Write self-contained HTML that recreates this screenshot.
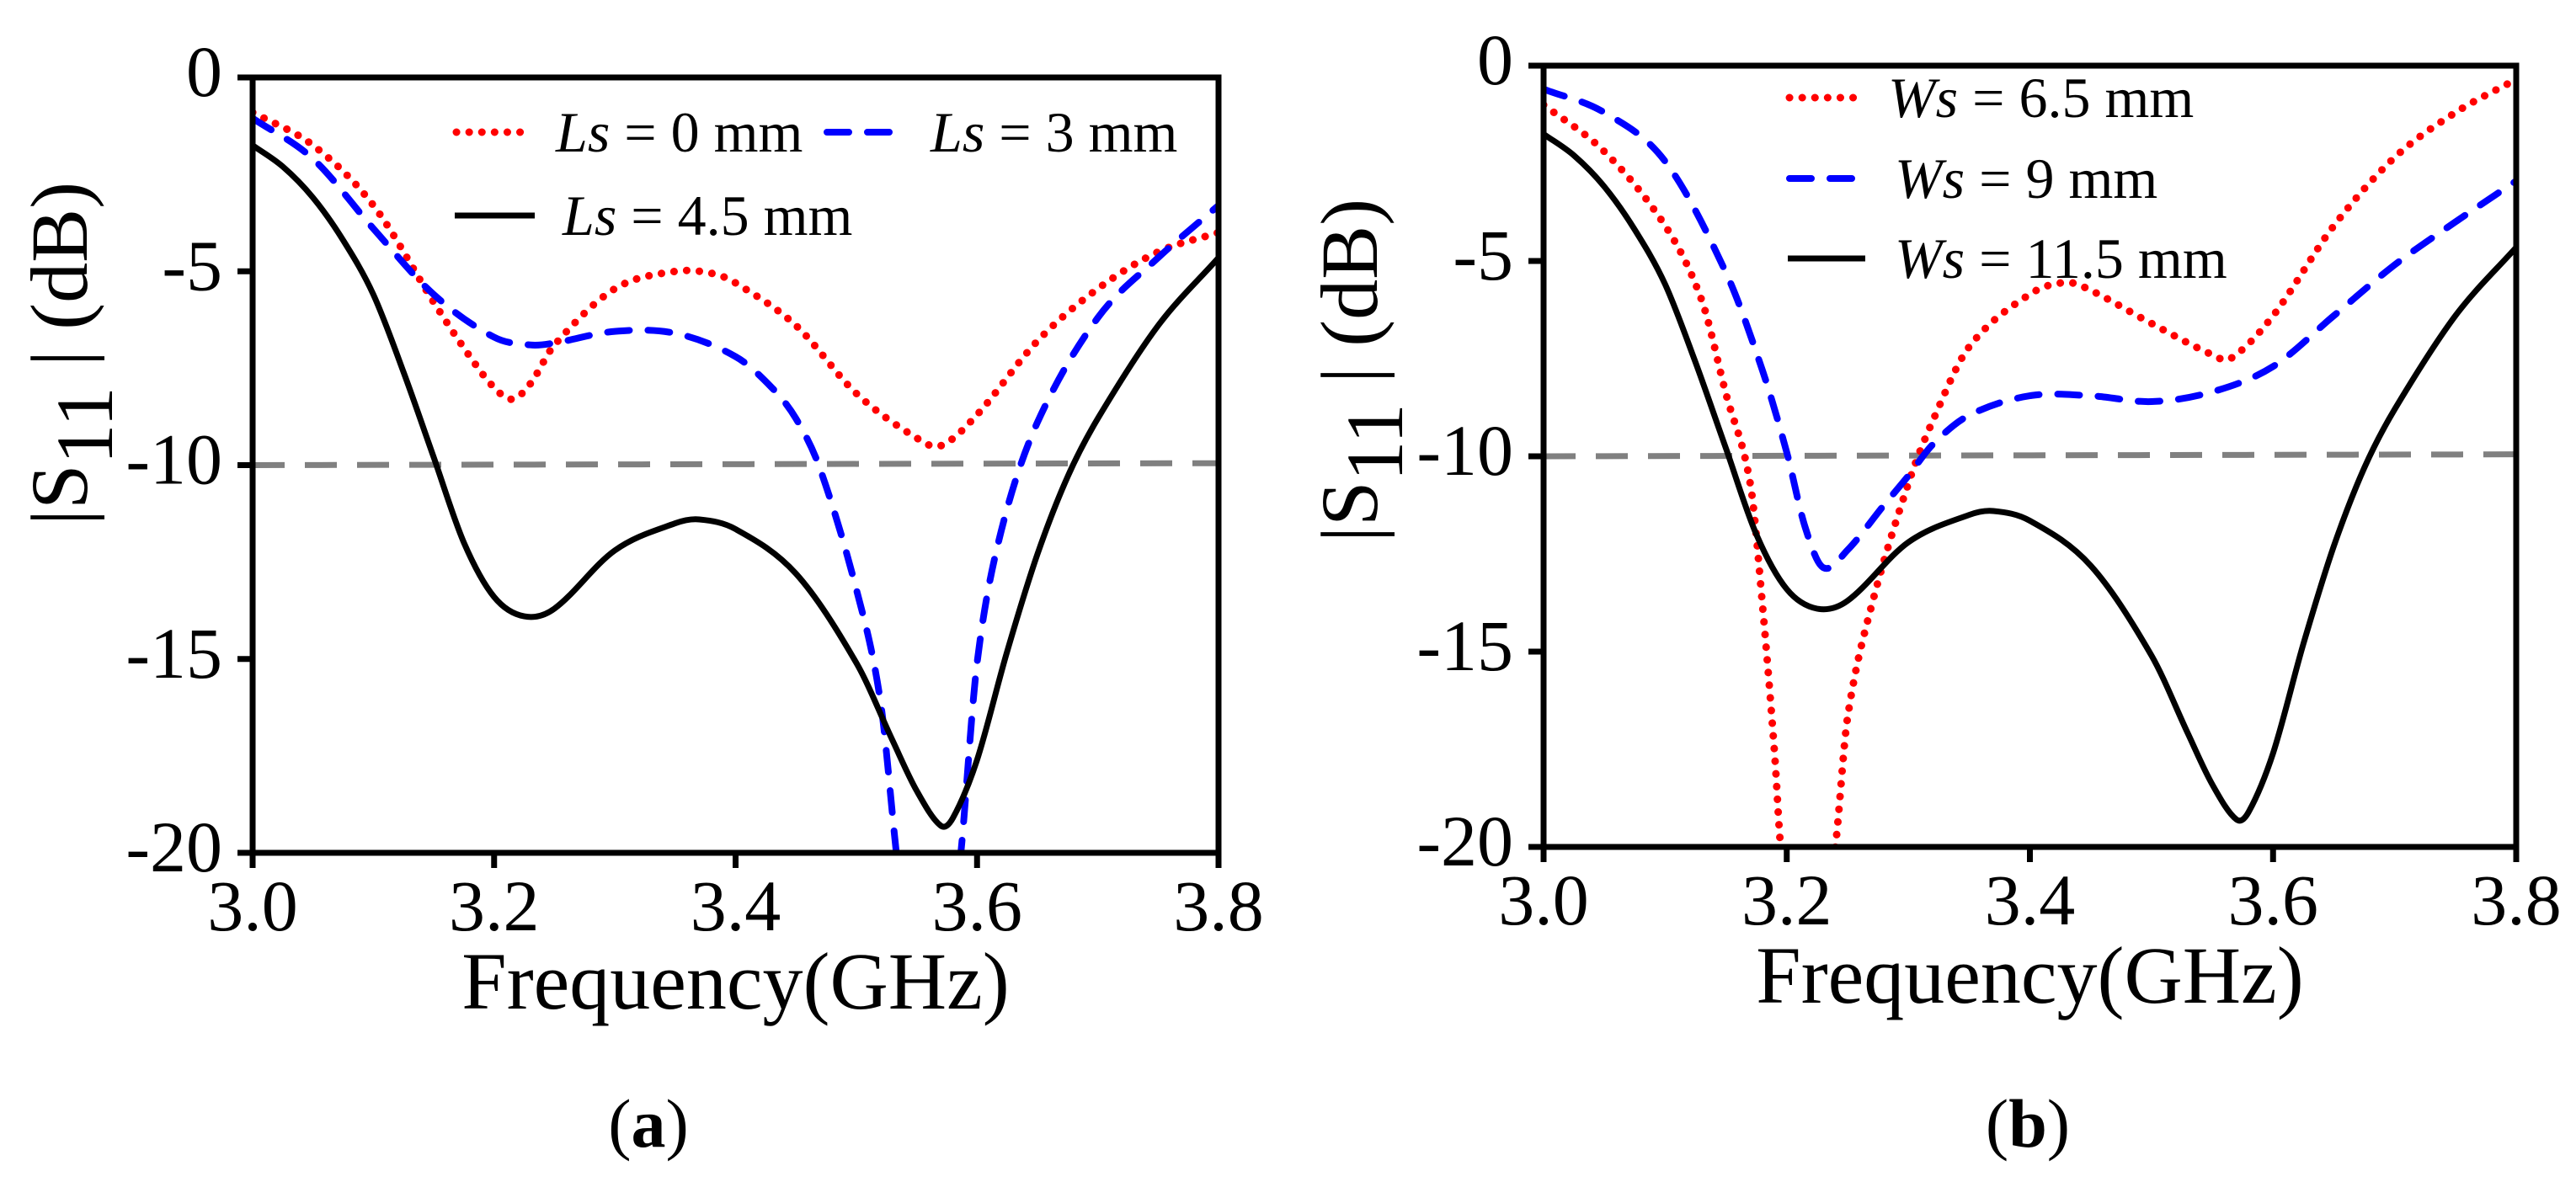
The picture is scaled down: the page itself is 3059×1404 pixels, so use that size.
<!DOCTYPE html>
<html><head><meta charset="utf-8"><style>
html,body{margin:0;padding:0;background:#fff;}
svg{display:block;}
text{font-family:"Liberation Serif",serif;fill:#000;}
</style></head><body>
<svg id="fig" width="3059" height="1404" viewBox="0 0 3059 1404" xmlns="http://www.w3.org/2000/svg"></svg>
<script>
// ---- data ----
const xTicks = [3.0, 3.2, 3.4, 3.6, 3.8];
const xTickLabels = ["3.0", "3.2", "3.4", "3.6", "3.8"];
const yTicks = [0, -5, -10, -15, -20];
const yTickLabels = ["0", "-5", "-10", "-15", "-20"];
const refLevel = [-10, -9.95];

// Panel (a)
const aRedF = [3.0,3.05,3.1,3.15,3.18,3.2,3.215,3.23,3.25,3.3,3.35,3.38,3.4,3.45,3.5,3.55,3.57,3.6,3.65,3.7,3.75,3.8];
const aRedV = [-0.9,-1.75,-3.3,-5.8,-7.2,-8.0,-8.3,-7.9,-6.9,-5.45,-5.0,-5.05,-5.3,-6.4,-8.15,-9.3,-9.5,-8.7,-6.8,-5.45,-4.5,-4.0];
const aBlueF = [3.0,3.05,3.1,3.15,3.2,3.23,3.25,3.3,3.35,3.4,3.43,3.45,3.47,3.5,3.52,3.535,3.56,3.585,3.6,3.62,3.65,3.7,3.75,3.8];
const aBlueV = [-1.05,-2.1,-3.9,-5.6,-6.7,-6.9,-6.85,-6.55,-6.6,-7.2,-8.0,-8.8,-10.1,-13.2,-16.1,-20.5,-26,-20.5,-15.1,-11.7,-8.9,-6.2,-4.65,-3.3];
const blackF = [3.0,3.025,3.05,3.075,3.1,3.125,3.15,3.175,3.2,3.225,3.25,3.3,3.35,3.37,3.4,3.45,3.5,3.53,3.55,3.57,3.58,3.6,3.625,3.65,3.675,3.7,3.75,3.8];
const blackV = [-1.75,-2.3,-3.1,-4.2,-5.6,-7.6,-9.8,-12.0,-13.4,-13.9,-13.7,-12.2,-11.5,-11.4,-11.65,-12.8,-15.1,-17.1,-18.4,-19.3,-19.1,-17.6,-14.8,-12.3,-10.3,-8.8,-6.4,-4.65];

// Panel (b)
const bRedF = [3.0,3.05,3.1,3.13,3.15,3.17,3.18,3.19,3.195,3.215,3.24,3.25,3.27,3.3,3.32,3.35,3.4,3.43,3.45,3.5,3.55,3.565,3.6,3.65,3.7,3.75,3.8];
const bRedV = [-1.0,-2.2,-4.1,-6.0,-8.4,-10.7,-13.8,-17.6,-20,-26,-20,-16.7,-13.8,-10.7,-9.1,-7.2,-5.85,-5.55,-5.75,-6.6,-7.4,-7.5,-6.4,-4.1,-2.35,-1.2,-0.35];
const bBlueF = [3.0,3.05,3.1,3.15,3.18,3.2,3.215,3.23,3.25,3.28,3.3,3.32,3.35,3.4,3.45,3.5,3.55,3.6,3.65,3.7,3.75,3.8];
const bBlueV = [-0.6,-1.2,-2.45,-5.3,-7.8,-9.9,-11.8,-12.85,-12.4,-11.25,-10.5,-9.7,-8.95,-8.45,-8.45,-8.6,-8.35,-7.7,-6.4,-5.1,-4.0,-2.95];

const NS = "http://www.w3.org/2000/svg";
const svg = document.getElementById('fig');
function mk(tag, attrs, parent){
  const e = document.createElementNS(NS, tag);
  for (const k in attrs) e.setAttribute(k, attrs[k]);
  (parent||svg).appendChild(e);
  return e;
}
function smoothPath(pts){
  const n = pts.length;
  const m = pts.map((p,i)=>{
    const a = pts[Math.max(0,i-1)], b = pts[Math.min(n-1,i+1)];
    return (b[1]-a[1])/(b[0]-a[0]);
  });
  let d = "M" + pts[0][0].toFixed(1) + "," + pts[0][1].toFixed(1);
  for (let i=0;i<n-1;i++){
    const p1 = pts[i], p2 = pts[i+1], h = (p2[0]-p1[0])/3;
    d += " C"+(p1[0]+h).toFixed(1)+","+(p1[1]+m[i]*h).toFixed(1)+" "+(p2[0]-h).toFixed(1)+","+(p2[1]-m[i+1]*h).toFixed(1)+" "+p2[0].toFixed(1)+","+p2[1].toFixed(1);
  }
  return d;
}

function panel(cfg){
  const {id, L, R, T, B, series, legend, titleX, titleY, label, labelX} = cfg;
  const g = mk('g', {});
  
  
  const xs = f => L + (f-3.0)/0.8*(R-L);
  const ys = v => T + (-v)/20*(B-T);
  const clip = mk('clipPath', {id:'clip'+id}, g);
  mk('rect', {x:L, y:T, width:R-L, height:B-T}, clip);

  const ref = mk('line', {x1:xs(3.0), y1:ys(refLevel[0]), x2:xs(3.8), y2:ys(refLevel[1]), stroke:'#808080', 'stroke-width':7, 'stroke-dasharray':'38 24'}, g);
  
  

  series.forEach(s => {
    const pts = s.f.map((f,i)=>[xs(f), ys(s.v[i])]);
    const p = mk('path', {d: smoothPath(pts), fill:'none', stroke:s.color, 'stroke-width':s.w, 'stroke-dasharray':s.dash, 'stroke-linecap':s.cap, 'clip-path':'url(#clip'+id+')'}, g);
    
    
  });

  const frame = mk('rect', {x:L, y:T, width:R-L, height:B-T, fill:'none', stroke:'#000', 'stroke-width':7}, g);
  
  

  xTicks.forEach((t,i) => {
    const tk = mk('line', {x1:xs(t), y1:B, x2:xs(t), y2:B+18, stroke:'#000', 'stroke-width':7}, g);
    
    
    const tx = mk('text', {x:xs(t), y:B+92, 'font-size':86, 'text-anchor':'middle'}, g);
    tx.textContent = xTickLabels[i];
    
    
  });
  yTicks.forEach((t,i) => {
    const tk = mk('line', {x1:L-18, y1:ys(t), x2:L, y2:ys(t), stroke:'#000', 'stroke-width':7}, g);
    
    
    const tx = mk('text', {x:L-36, y:ys(t)+22, 'font-size':86, 'text-anchor':'end'}, g);
    tx.textContent = yTickLabels[i];
    
    
  });

  const xt = mk('text', {x:(L+R)/2, y:B+185, 'font-size':96, 'text-anchor':'middle'}, g);
  xt.textContent = 'Frequency(GHz)';
  
  

  const yt = mk('text', {x:0, y:0, 'font-size':96, 'text-anchor':'middle', transform:'translate('+titleX+','+titleY+') rotate(-90)'}, g);
  
  
  const t1 = mk('tspan', {}, yt); t1.textContent = '|S';
  const t2 = mk('tspan', {dy:30}, yt); t2.textContent = '11';
  const t3 = mk('tspan', {dy:-30}, yt); t3.textContent = ' | (dB)';

  legend.forEach(e => {
    const ln = mk('line', {x1:e.x1, y1:e.y, x2:e.x2, y2:e.y, stroke:e.color, 'stroke-width':e.w, 'stroke-dasharray':e.dash, 'stroke-linecap':e.cap}, g);
    
    
    const tx = mk('text', {x:e.tx, y:e.y+23, 'font-size':68}, g);
    
    
    const a = mk('tspan', {'font-style':'italic'}, tx); a.textContent = e.sym;
    const b = mk('tspan', {}, tx); b.textContent = ' = ' + e.val;
  });

  const pl = mk('text', {x:labelX, y:1362, 'font-size':82, 'text-anchor':'middle'}, g);
  
  
  const p1 = mk('tspan', {}, pl); p1.textContent = '(';
  const p2 = mk('tspan', {'font-weight':'bold'}, pl); p2.textContent = label;
  const p3 = mk('tspan', {}, pl); p3.textContent = ')';
}

const redS = {color:'#ff0000', w:9, dash:'0.1 15', cap:'round'};
const blueS = {color:'#0000ff', w:8, dash:'26 22', cap:'round'};
const blackS = {color:'#000', w:7, dash:'none', cap:'butt'};

panel({id:'a', L:300, R:1447, T:92, B:1013, titleX:103, titleY:420, label:'a', labelX:770,
  series:[
    Object.assign({name:'series-ls-0mm', f:aRedF, v:aRedV}, redS),
    Object.assign({name:'series-ls-3mm', f:aBlueF, v:aBlueV}, blueS),
    Object.assign({name:'series-ls-4.5mm', f:blackF, v:blackV}, blackS)
  ],
  legend:[
    Object.assign({x1:542, x2:622, y:157, tx:660, sym:'Ls', val:'0 mm'}, redS),
    Object.assign({x1:982, x2:1062, y:157, tx:1105, sym:'Ls', val:'3 mm'}, blueS),
    Object.assign({x1:540, x2:635, y:256, tx:668, sym:'Ls', val:'4.5 mm'}, blackS)
  ]});

panel({id:'b', L:1833, R:2988, T:78, B:1006, titleX:1635, titleY:440, label:'b', labelX:2408,
  series:[
    Object.assign({name:'series-ws-6.5mm', f:bRedF, v:bRedV}, redS),
    Object.assign({name:'series-ws-9mm', f:bBlueF, v:bBlueV}, blueS),
    Object.assign({name:'series-ws-11.5mm', f:blackF, v:blackV}, blackS)
  ],
  legend:[
    Object.assign({x1:2125, x2:2210, y:116, tx:2242, sym:'Ws', val:'6.5 mm'}, redS),
    Object.assign({x1:2125, x2:2210, y:212, tx:2250, sym:'Ws', val:'9 mm'}, blueS),
    Object.assign({x1:2123, x2:2215, y:307, tx:2250, sym:'Ws', val:'11.5 mm'}, blackS)
  ]});
</script>
</body></html>
